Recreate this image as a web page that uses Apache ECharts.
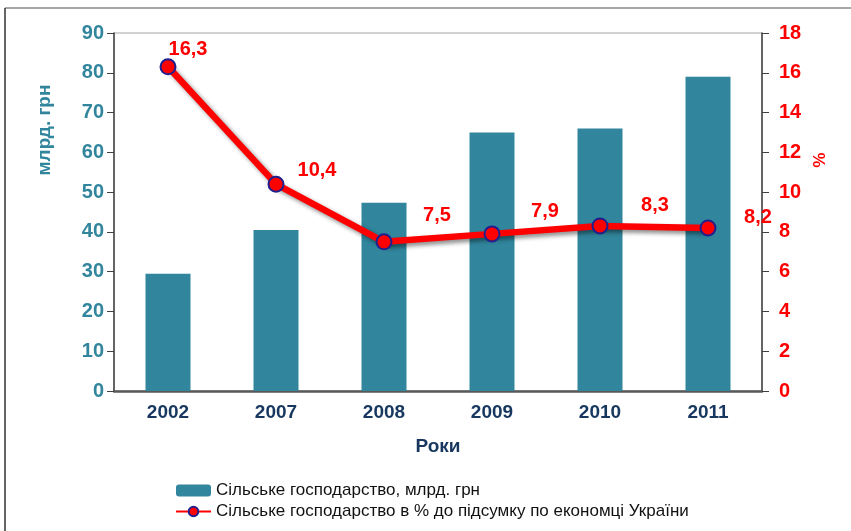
<!DOCTYPE html>
<html>
<head>
<meta charset="utf-8">
<script src="https://cdn.jsdelivr.net/npm/echarts@6/dist/echarts.min.js"></script>
<style>
  html, body { margin: 0; padding: 0; background: #fff; }
  #main { width: 851px; height: 531px; }
</style>
</head>
<body>
<div id="main"></div>
<script>
var years = ['2002', '2007', '2008', '2009', '2010', '2011'];
var valueBn = [29.5, 40.5, 47.3, 65, 66, 79];       // млрд. грн
var sharePct = [16.3, 10.4, 7.5, 7.9, 8.3, 8.2];     // %
var leftTicks = [0, 90, 10];
var rightTicks = [0, 18, 2];

var barName = 'Сільське господарство, млрд. грн';
var lineName = 'Сільське господарство в % до підсумку по економці України';

// зсув підписів над точками
var labelShift = [[20, -17], [41, -14], [53, -26], [53, -22], [55, -20], [50, -10]];

var font = '"Liberation Sans", Arial, sans-serif';
var teal = '#31859c';
var navy = '#17375e';

var chart = echarts.init(document.getElementById('main'));

var lineData = sharePct.map(function (v, i) {
  return {
    value: v,
    label: { offset: labelShift[i] }
  };
});

var option = {
  animation: false,
  grid: {
    left: 114, right: 89, top: 33, bottom: 140,
    show: true, borderColor: '#a6a6a6', borderWidth: 1
  },
  legend: {
    orient: 'vertical',
    left: 170, top: 477,
    itemWidth: 35, itemHeight: 12, itemGap: 4,
    textStyle: { fontFamily: font, fontSize: 17, color: '#111' },
    data: [barName, lineName]
  },
  graphic: [
    { type: 'line', shape: { x1: 5, y1: 8, x2: 851, y2: 8 }, style: { stroke: '#888', lineWidth: 1.5 } },
    { type: 'line', shape: { x1: 5, y1: 8, x2: 5, y2: 531 }, style: { stroke: '#333', lineWidth: 1.5 } },
    {
      type: 'text', x: 45, y: 130, rotation: Math.PI / 2,
      style: { text: 'млрд. грн', fill: teal, font: 'bold 19px ' + font, align: 'center', verticalAlign: 'middle' }
    },
    {
      type: 'text', x: 818, y: 160, rotation: -Math.PI / 2,
      style: { text: '%', fill: '#ff0000', font: 'bold 17px ' + font, align: 'center', verticalAlign: 'middle' }
    }
  ],
  xAxis: {
    type: 'category',
    data: years,
    name: 'Роки',
    nameLocation: 'middle',
    nameGap: 46,
    nameTextStyle: { fontFamily: font, fontSize: 19, fontWeight: 'bold', color: navy },
    axisLine: { lineStyle: { color: '#595959', width: 2.5 } },
    axisTick: { length: 67, lineStyle: { color: '#595959', width: 1 } },
    axisLabel: { margin: 12, fontFamily: font, fontSize: 19, fontWeight: 'bold', color: navy }
  },
  yAxis: [{
    type: 'value',
    min: leftTicks[0], max: leftTicks[1], interval: leftTicks[2],
    splitLine: { show: false },
    axisLine: { show: true, lineStyle: { color: '#404040', width: 1.5 } },
    axisTick: { show: true, length: 7, lineStyle: { color: '#404040' } },
    axisLabel: { margin: 10, fontFamily: font, fontSize: 20, fontWeight: 'bold', color: teal }
  }, {
    type: 'value',
    min: rightTicks[0], max: rightTicks[1], interval: rightTicks[2],
    splitLine: { show: false },
    axisLine: { show: true, lineStyle: { color: '#404040', width: 1.5 } },
    axisTick: { show: true, length: 7, lineStyle: { color: '#404040' } },
    axisLabel: { margin: 17, fontFamily: font, fontSize: 20, fontWeight: 'bold', color: '#ff0000' }
  }],
  series: [{
    name: barName,
    type: 'bar',
    data: valueBn,
    barWidth: 45,
    itemStyle: { color: teal }
  }, {
    name: lineName,
    type: 'line',
    yAxisIndex: 1,
    data: lineData,
    symbol: 'circle',
    symbolSize: 15,
    lineStyle: {
      color: '#ff0000', width: 6.5,
      shadowColor: 'rgba(0,0,0,0.45)', shadowBlur: 4, shadowOffsetX: 3, shadowOffsetY: 3
    },
    itemStyle: { color: '#ff0000', borderColor: '#1f1f8f', borderWidth: 2 },
    label: {
      show: true,
      position: 'inside',
      fontFamily: font, fontSize: 20, fontWeight: 'bold', color: '#ff0000',
      formatter: function (p) { return String(p.value).replace('.', ','); }
    },
    z: 5
  }]
};

chart.setOption(option);
</script>
</body>
</html>
